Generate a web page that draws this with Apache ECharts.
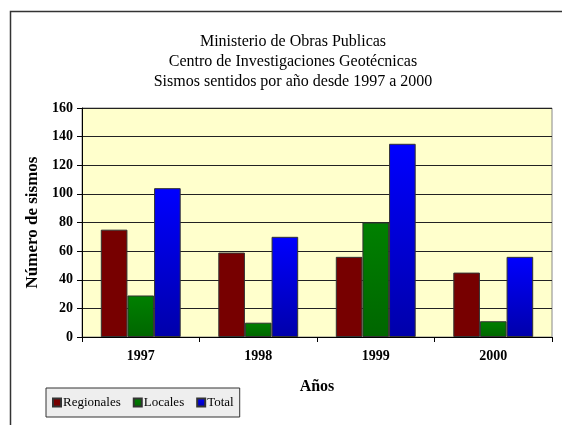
<!DOCTYPE html>
<html>
<head>
<meta charset="utf-8">
<script src="https://cdn.jsdelivr.net/npm/echarts@6/dist/echarts.min.js"></script>
<style>
  html, body { margin: 0; padding: 0; background: #fff; }
  #main { width: 562px; height: 425px; }
</style>
</head>
<body>
<div id="main"></div>
<script>
var years = ['1997', '1998', '1999', '2000'];
var regionales = [75, 59, 56, 45];
var locales = [29, 10, 80, 11];
var total = [104, 70, 135, 56];
var yTicks = [0, 20, 40, 60, 80, 100, 120, 140, 160];

var serif = '"Liberation Serif", "DejaVu Serif", serif';

function grad(top, bottom) {
    return new echarts.graphic.LinearGradient(0, 0, 0, 1, [
        { offset: 0, color: top },
        { offset: 1, color: bottom }
    ]);
}

var myChart = echarts.init(document.getElementById('main'));
var option = {
    animation: false,
    backgroundColor: '#ffffff',
    graphic: [
        {
            type: 'rect',
            shape: { x: 10.5, y: 11.5, width: 600, height: 500 },
            style: { fill: 'none', stroke: '#333', lineWidth: 1.5 },
            z: -1
        }
    ],
    title: {
        text: 'Ministerio de Obras Publicas\nCentro de Investigaciones Geotécnicas\nSismos sentidos por año desde 1997 a 2000',
        left: 288,
        top: 27,
        textAlign: 'center',
        textStyle: {
            fontFamily: serif,
            fontSize: 16,
            fontWeight: 'normal',
            color: '#000',
            lineHeight: 20
        }
    },
    legend: {
        data: ['Regionales', 'Locales', 'Total'],
        left: 46,
        top: 388,
        orient: 'horizontal',
        icon: 'rect',
        itemWidth: 8,
        itemHeight: 8,
        itemGap: 12,
        padding: [8, 6, 8, 6],
        backgroundColor: '#eeeeee',
        borderColor: '#333',
        borderWidth: 1,
        textStyle: { fontFamily: serif, fontSize: 13, color: '#000', padding: [0, 0, 0, -3] }
    },
    grid: {
        left: 82,
        right: 10,
        top: 108,
        bottom: 88,
        show: true,
        backgroundColor: '#ffffcc',
        borderColor: '#888',
        borderWidth: 1
    },
    xAxis: {
        type: 'category',
        data: years,
        name: 'Años',
        nameLocation: 'middle',
        nameGap: 42,
        nameTextStyle: { fontFamily: serif, fontSize: 16, fontWeight: 'bold', color: '#000' },
        axisLine: { lineStyle: { color: '#000', width: 1 } },
        axisTick: { show: true, length: 5, lineStyle: { color: '#000' } },
        axisLabel: { fontFamily: serif, fontSize: 14, fontWeight: 'bold', color: '#000', margin: 12 }
    },
    yAxis: {
        type: 'value',
        min: yTicks[0],
        max: yTicks[yTicks.length - 1],
        interval: 20,
        name: 'Número de sismos',
        nameLocation: 'middle',
        nameGap: 40,
        nameTextStyle: { fontFamily: serif, fontSize: 17, fontWeight: 'bold', color: '#000' },
        axisLine: { show: true, lineStyle: { color: '#000', width: 1 } },
        axisTick: { show: true, length: 5, lineStyle: { color: '#000' } },
        axisLabel: { fontFamily: serif, fontSize: 14, fontWeight: 'bold', color: '#000', margin: 9 },
        splitLine: { show: true, lineStyle: { color: '#222', width: 1 } }
    },
    series: [
        {
            name: 'Regionales',
            type: 'bar',
            data: regionales,
            barGap: '0%',
            barCategoryGap: '32%',
            itemStyle: { color: '#770000', borderColor: '#333', borderWidth: 1 }
        },
        {
            name: 'Locales',
            type: 'bar',
            data: locales,
            itemStyle: { color: grad('#008000', '#006600'), borderColor: '#333', borderWidth: 1 }
        },
        {
            name: 'Total',
            type: 'bar',
            data: total,
            itemStyle: { color: grad('#0000ff', '#0000aa'), borderColor: '#333', borderWidth: 1 }
        }
    ]
};
myChart.setOption(option);
</script>
</body>
</html>
